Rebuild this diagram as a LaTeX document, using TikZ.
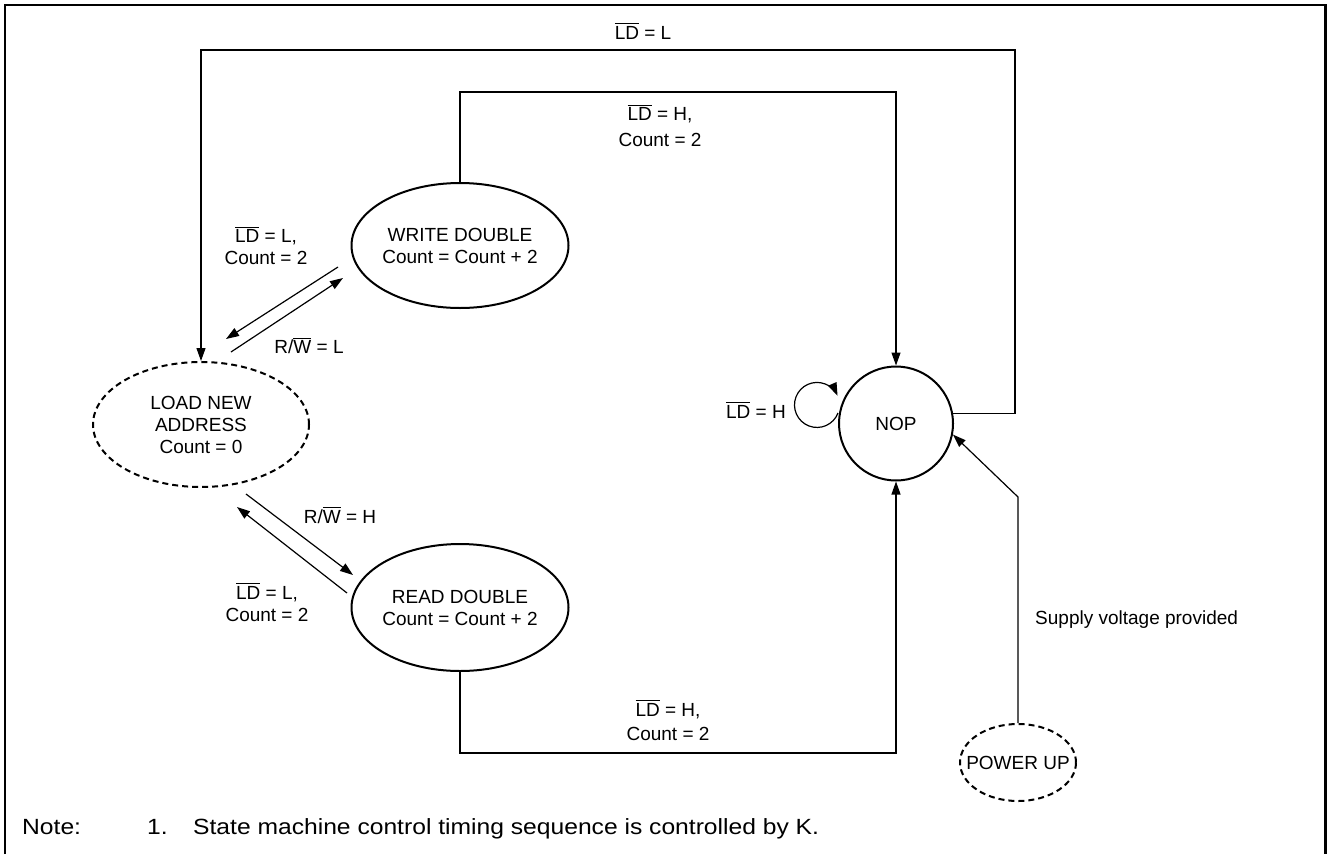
\documentclass[tikz,border=0pt]{standalone}
\usepackage{fontspec}
\setmainfont{Liberation Sans}
\newfontfamily\notefont[FakeStretch=1.12]{Liberation Sans}
\usetikzlibrary{shapes.geometric,arrows.meta}
\newcommand\ovl[1]{\begingroup\setbox0\hbox{#1}\rlap{\rule[\dimexpr\ht0+2.2pt\relax]{\wd0}{0.9pt}}\box0\endgroup}
\begin{document}
\begin{tikzpicture}[x=1pt,y=-1pt,
  font=\fontsize{19}{22}\selectfont,
  state/.style={draw, line width=2pt, ellipse, inner ysep=0pt, inner xsep=-12pt, align=center},
  dstate/.style={state, dash pattern=on 6pt off 4pt},
  conn/.style={line width=1.2pt},
  arr/.style={conn, -{Triangle[length=13pt,width=9pt]}},
  lbl/.style={inner sep=0pt, align=center},
  notestyle/.style={inner sep=0pt, anchor=base west, font=\notefont\fontsize{22}{26}\selectfont}]
\useasboundingbox (0,0) rectangle (1327,854);
\fill[white] (0,0) rectangle (1327,854);
% border
\draw[line width=2.5pt] (5.2,854) -- (5.2,5.2) -- (1325.7,5.2) -- (1325.7,854);

% states
\node[state, minimum width=217pt, minimum height=125pt] (write) at (460,245.5) {WRITE DOUBLE\\Count = Count + 2};
\node[dstate, minimum width=216pt, minimum height=125pt] (load) at (201,424.5) {LOAD NEW\\ADDRESS\\Count = 0};
\node[state, minimum width=217pt, minimum height=127pt] (read) at (460,607.5) {READ DOUBLE\\Count = Count + 2};
\node[draw, circle, line width=2pt, minimum size=114pt, inner sep=0pt] (nop) at (896,423.5) {NOP};
\node[dstate, minimum width=116pt, minimum height=77pt] (power) at (1018,762.5) {\makebox[0pt]{POWER UP}};

% corner coordinates
\coordinate (tr) at (1015,50);
\coordinate (sup) at (1018,497);

% long connectors
\draw[arr] (write.north) -- ++(0,-90) -| (nop.north);
\draw[arr] (read.south) -- ++(0,81) -| (nop.south);
\draw[arr] (nop.10) -| (tr) -| (load.north);
\draw[arr] (power.north) -- (sup) -- (nop.-11);

% self loop
\coordinate (ls) at (838,413);
\draw[arr] (ls) arc[start angle=21, end angle=336, radius=22.5];

% diagonal pairs
\coordinate (wl1s) at (338,267); \coordinate (wl1e) at (226,339);
\coordinate (wl2s) at (231,352); \coordinate (wl2e) at (343,278);
\coordinate (lr1s) at (246,494); \coordinate (lr1e) at (353,575);
\coordinate (lr2s) at (347,593); \coordinate (lr2e) at (237,507);
\draw[arr] (wl1s) -- (wl1e);
\draw[arr] (wl2s) -- (wl2e);
\draw[arr] (lr1s) -- (lr1e);
\draw[arr] (lr2s) -- (lr2e);

% labels
\node[lbl] (lA) at (643,31) {\ovl{LD} = L};
\node[lbl] (lB) at (660,126) {\ovl{LD} = H,\\[4pt]Count = 2};
\node[lbl] (lC) at (668,720) {\ovl{LD} = H,\\[2pt]Count = 2};
\node[lbl] (lD) at (266,246) {\ovl{LD} = L,\\Count = 2};
\node[lbl] (lE) at (309,346) {R/\ovl{W} = L};
\node[lbl] (lF) at (340,515) {R/\ovl{W} = H};
\node[lbl] (lG) at (267,602) {\ovl{LD} = L,\\Count = 2};
\node[lbl] (lH) at (756,410) {\ovl{LD} = H};
\node[lbl, anchor=west] (lI) at (1035,620) {Supply voltage provided};

% note
\node[notestyle] (n1) at (22,834) {Note:};
\node[notestyle] (n2) at (147,834) {1.};
\node[notestyle] (n3) at (193,834) {State machine control timing sequence is controlled by K.};
\end{tikzpicture}
\end{document}
